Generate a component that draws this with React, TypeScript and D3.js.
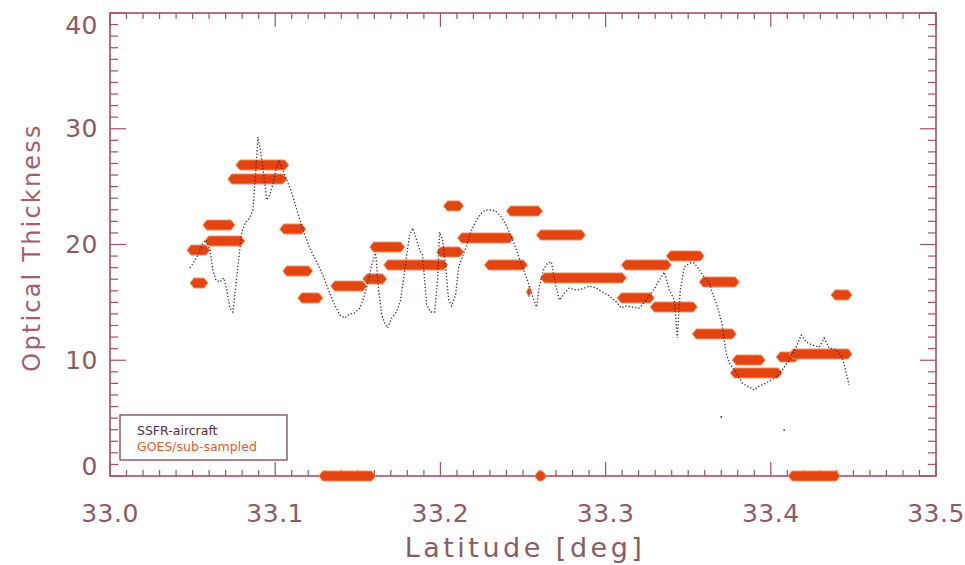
import React from 'react';
import * as d3 from 'd3';

// ---- data ----
const xTicks = [33.0, 33.1, 33.2, 33.3, 33.4, 33.5];
const xTickLabels = ['33.0', '33.1', '33.2', '33.3', '33.4', '33.5'];
const yTicks = [0, 10, 20, 30, 40];
const yTickLabels = ['0', '10', '20', '30', '40'];

const ssfrLat = [
  33.0484, 33.0508, 33.0532, 33.0556, 33.058, 33.0605, 33.0623, 33.0641, 33.0665, 33.0689,
  33.0707, 33.0726, 33.0744, 33.0762, 33.078, 33.0798, 33.0822, 33.0846, 33.0865, 33.0883,
  33.0895, 33.0913, 33.0931, 33.0949, 33.0967, 33.0985, 33.1004, 33.1022, 33.1046, 33.107,
  33.1094, 33.1119, 33.1149, 33.1179, 33.1209, 33.1239, 33.127, 33.13, 33.133, 33.136,
  33.1391, 33.1421, 33.1451, 33.1481, 33.1512, 33.1536, 33.156, 33.1584, 33.1608, 33.1626,
  33.1645, 33.1663, 33.1681, 33.1705, 33.1735, 33.1759, 33.1778, 33.1796, 33.1814, 33.1832,
  33.1856, 33.1874, 33.1892, 33.1917, 33.1941, 33.1965, 33.1983, 33.1995, 33.2013, 33.2031,
  33.205, 33.2068, 33.2092, 33.211, 33.2134, 33.2158, 33.2183, 33.2213, 33.2243, 33.2273,
  33.2304, 33.2334, 33.2364, 33.2388, 33.2412, 33.2437, 33.2461, 33.2485, 33.2509, 33.2533,
  33.2558, 33.2582, 33.26, 33.2624, 33.2648, 33.2672, 33.2697, 33.2721, 33.2751, 33.2781,
  33.2823, 33.286, 33.2902, 33.2944, 33.2981, 33.3023, 33.3065, 33.3096, 33.3126, 33.3162,
  33.3204, 33.3235, 33.3265, 33.3295, 33.3325, 33.3356, 33.3386, 33.3416, 33.3434, 33.3452,
  33.3476, 33.3507, 33.3537, 33.3567, 33.3597, 33.3628, 33.3646, 33.367, 33.3688, 33.3706,
  33.3718, 33.373, 33.3749, 33.3791, 33.3827, 33.3869, 33.39, 33.393, 33.3972, 33.4002,
  33.4033, 33.4069, 33.4111, 33.4154, 33.4184, 33.4214, 33.425, 33.4293, 33.4323, 33.4353,
  33.4396, 33.4432, 33.4456, 33.4474,
];
const ssfrTau = [
  17.97, 18.49, 19.09, 19.96, 20.39, 19.52, 17.8, 16.93, 16.76, 17.11,
  16.07, 14.51, 14.17, 16.5, 18.83, 21.08, 21.94, 22.29, 22.98, 26.44,
  29.29, 27.99, 26.0, 23.84, 24.28, 25.14, 26.44, 27.3, 26.44, 25.57,
  24.71, 23.58, 22.12, 20.82, 19.7, 18.83, 17.97, 16.93, 15.81, 14.77,
  13.91, 13.65, 14.0, 14.08, 14.51, 15.38, 16.67, 18.23, 19.26, 16.07,
  13.91, 13.22, 12.79, 13.65, 14.17, 15.2, 17.11, 19.09, 20.82, 21.42,
  20.39, 19.52, 19.09, 14.77, 14.17, 14.17, 16.93, 21.08, 20.39, 18.23,
  15.2, 14.69, 15.64, 17.97, 19.01, 19.87, 21.08, 21.94, 22.63, 22.98,
  22.98, 22.89, 22.46, 21.94, 21.25, 20.39, 19.52, 18.49, 17.62, 16.67,
  15.55, 14.6, 16.5, 17.8, 18.4, 18.49, 16.5, 15.2, 15.81, 16.24,
  16.07, 16.16, 16.41, 16.24, 15.9, 15.55, 15.03, 14.51, 14.69, 14.6,
  14.51, 15.03, 15.55, 16.16, 16.93, 17.62, 16.07, 15.2, 11.92, 16.07,
  18.06, 18.4, 18.4, 17.8, 17.19, 16.67, 15.81, 14.95, 14.08, 13.05,
  11.75, 10.63, 9.76, 8.9, 8.03, 7.69, 7.43, 7.78, 8.03, 8.29,
  8.55, 9.16, 10.02, 11.14, 12.18, 11.58, 11.32, 11.14, 11.92, 11.06,
  10.89, 10.28, 8.9, 7.86,
];
const ssfrOutlierLat = [33.37, 33.4081];
const ssfrOutlierTau = [5.1, 3.97];

const goesLatStart = [
  33.0484, 33.0466, 33.0562, 33.0574, 33.0762, 33.0713, 33.1028, 33.1046, 33.1137, 33.1336,
  33.153, 33.1572, 33.1657, 33.1977, 33.2019, 33.2104, 33.24, 33.2267, 33.2521, 33.2582,
  33.2606, 33.3096, 33.3368, 33.3071, 33.3271, 33.3567, 33.3525, 33.3767, 33.3755, 33.4033,
  33.4111, 33.4365, 33.1264, 33.257, 33.4105,
];
const goesLatEnd = [
  33.0593, 33.0605, 33.0756, 33.0816, 33.1082, 33.107, 33.1185, 33.1227, 33.1288, 33.1554,
  33.1675, 33.1784, 33.2044, 33.214, 33.214, 33.2443, 33.2618, 33.2527, 33.2551, 33.2878,
  33.3126, 33.3398, 33.3597, 33.3295, 33.3555, 33.3809, 33.3791, 33.3966, 33.4069, 33.4172,
  33.4492, 33.4492, 33.1608, 33.2642, 33.442,
];
const goesTau = [
  16.67, 19.52, 21.68, 20.3, 26.87, 25.66, 21.34, 17.71, 15.38, 16.41,
  17.02, 19.78, 18.23, 19.35, 23.33, 20.56, 22.89, 18.23, 15.9, 20.82,
  17.11, 18.23, 19.01, 15.38, 14.6, 16.76, 12.27, 10.02, 8.9, 10.28,
  10.54, 15.64, 0, 0, 0,
];

const legendLabels = ['SSFR-aircraft', 'GOES/sub-sampled'];

// ---- styles ----
const W = 965;
const H = 565;
const AXIS = '#a8505e';
const TEXT = '#8e5a62';
const TITLE = '#a2606a';
const SSFR_COLOR = '#4a2848';
const GOES_COLOR = '#e4440f';
const FONT = 'DejaVu Sans, sans-serif';

export default function App() {
  const x = d3.scaleLinear().domain([33.0, 33.5]).range([110, 936]);
  const y = d3.scaleLinear().domain([0, 40]).range([476, 13]);
  const [x0, x1] = x.range();
  const [y0, y1] = y.range();

  const xMinor = d3.range(0, 51).map((i) => 33 + i * 0.01);
  const yMinor = d3.range(0, 41);

  const line = d3
    .line<number>()
    .x((_, i) => x(ssfrLat[i]))
    .y((d) => y(d));

  const barPath = (a: number, b: number, v: number) => {
    const xa = x(a);
    const xb = x(b);
    const yc = y(v);
    const h = 5;
    const p = Math.min(4, (xb - xa) / 2);
    return `M${xa},${yc}L${xa + p},${yc - h}L${xb - p},${yc - h}L${xb},${yc}L${xb - p},${yc + h}L${xa + p},${yc + h}Z`;
  };

  return (
    <svg
      width={W}
      height={H}
      style={{ position: 'absolute', left: 0, top: 0, background: '#fff' }}
    >
      {/* ticks */}
      <g stroke={AXIS} strokeWidth={1.2}>
        {xMinor.map((v, i) => {
          const major = i % 10 === 0;
          const len = major ? 14 : 6;
          return (
            <g key={'xm' + i}>
              <line x1={x(v)} x2={x(v)} y1={y0} y2={y0 - len} />
              <line x1={x(v)} x2={x(v)} y1={y1} y2={y1 + len} />
            </g>
          );
        })}
        {yMinor.map((v, i) => {
          const major = i % 10 === 0;
          const len = major ? 16 : 8;
          return (
            <g key={'ym' + i}>
              <line x1={x0} x2={x0 + len} y1={y(v)} y2={y(v)} />
              <line x1={x1} x2={x1 - len} y1={y(v)} y2={y(v)} />
            </g>
          );
        })}
      </g>
      {/* frame */}
      <rect
        x={x0}
        y={y1}
        width={x1 - x0}
        height={y0 - y1}
        fill="none"
        stroke={AXIS}
        strokeWidth={1.6}
      />

      {/* GOES bars */}
      <g fill={GOES_COLOR} stroke="#f29060" strokeWidth={1}>
        {goesTau.map((v, i) => (
          <path key={'g' + i} d={barPath(goesLatStart[i], goesLatEnd[i], v)} />
        ))}
      </g>

      {/* SSFR dotted line */}
      <path
        d={line(ssfrTau) || ''}
        fill="none"
        stroke={SSFR_COLOR}
        strokeWidth={1.3}
        strokeDasharray="1.3 2"
      />
      {ssfrOutlierTau.map((v, i) => (
        <circle key={'o' + i} cx={x(ssfrOutlierLat[i])} cy={y(v)} r={0.9} fill={SSFR_COLOR} />
      ))}

      {/* tick labels */}
      <g fill={TEXT} fontFamily={FONT} fontSize={25} letterSpacing={0.5}>
        {xTicks.map((v, i) => (
          <text key={'xl' + i} x={x(v)} y={522} textAnchor="middle">
            {xTickLabels[i]}
          </text>
        ))}
        {yTicks.map((v, i) => (
          <text
            key={'yl' + i}
            x={x0 - 12}
            y={Math.min(Math.max(y(v), 25), 466)}
            textAnchor="end"
            dominantBaseline="central"
          >
            {yTickLabels[i]}
          </text>
        ))}
      </g>

      {/* axis titles */}
      <text
        x={(x0 + x1) / 2 + 2}
        y={557}
        textAnchor="middle"
        fill={TEXT}
        fontFamily={FONT}
        fontSize={27}
        letterSpacing={3.5}
      >
        Latitude [deg]
      </text>
      <text
        transform={`translate(40,${(y0 + y1) / 2 + 3}) rotate(-90)`}
        textAnchor="middle"
        fill={TITLE}
        fontFamily={FONT}
        fontSize={24}
        letterSpacing={2.2}
      >
        Optical Thickness
      </text>

      {/* legend */}
      <rect x={120} y={415} width={167} height={45} fill="#fff" stroke="#7a3040" strokeWidth={1.2} />
      <text x={137} y={435} fill="#5a2a44" fontFamily={FONT} fontSize={12.5}>
        {legendLabels[0]}
      </text>
      <text x={137} y={451} fill="#e0602e" fontFamily={FONT} fontSize={12.5}>
        {legendLabels[1]}
      </text>
    </svg>
  );
}
